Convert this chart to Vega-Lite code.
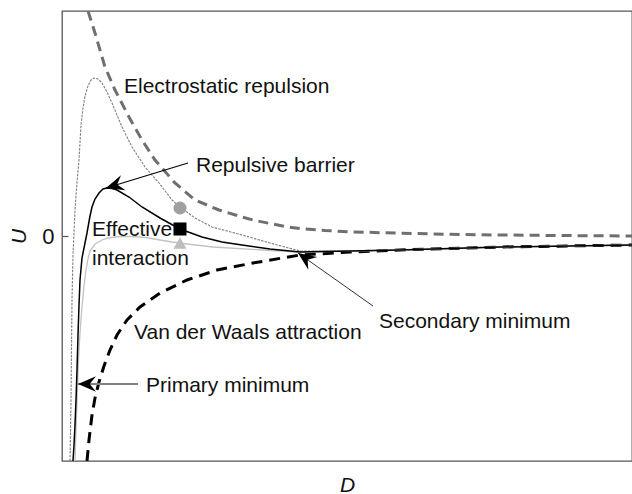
{
  "$schema": "https://vega.github.io/schema/vega-lite/v6.json",
  "width": 570,
  "height": 450,
  "autosize": {"type": "none"},
  "padding": {"left": 62, "top": 11, "right": 0, "bottom": 33},
  "background": "white",
  "config": {
    "font": "Liberation Sans",
    "view": {"stroke": "#555555", "strokeWidth": 1.3}
  },
  "datasets": {
    "electrostatic": [
      {"D": 26, "U": 225}, {"D": 33, "U": 203}, {"D": 43, "U": 169}, {"D": 53, "U": 146},
      {"D": 67, "U": 119}, {"D": 80, "U": 96}, {"D": 93, "U": 76}, {"D": 113, "U": 53},
      {"D": 133, "U": 36}, {"D": 157, "U": 26}, {"D": 180, "U": 19}, {"D": 191, "U": 16},
      {"D": 208, "U": 12.5}, {"D": 223, "U": 9.5}, {"D": 238, "U": 7.5}, {"D": 263, "U": 5.5},
      {"D": 288, "U": 4.2}, {"D": 338, "U": 2.8}, {"D": 388, "U": 1.7}, {"D": 438, "U": 1},
      {"D": 508, "U": 0.4}, {"D": 570, "U": 0}
    ],
    "vanderwaals": [
      {"D": 25, "U": -225}, {"D": 27, "U": -204}, {"D": 30, "U": -179}, {"D": 33, "U": -162},
      {"D": 37, "U": -146}, {"D": 42, "U": -130}, {"D": 48, "U": -114}, {"D": 55, "U": -99},
      {"D": 65, "U": -84}, {"D": 78, "U": -71}, {"D": 98, "U": -57}, {"D": 125, "U": -44},
      {"D": 155, "U": -34}, {"D": 191, "U": -27}, {"D": 238, "U": -19}, {"D": 288, "U": -16},
      {"D": 338, "U": -14}, {"D": 438, "U": -11}, {"D": 570, "U": -9}
    ],
    "strongRepulsion": [
      {"D": 8, "U": -225}, {"D": 9, "U": -164}, {"D": 10, "U": -64}, {"D": 11, "U": -19},
      {"D": 12, "U": 4}, {"D": 13, "U": 26}, {"D": 15, "U": 54}, {"D": 17, "U": 76},
      {"D": 19, "U": 111}, {"D": 21, "U": 128}, {"D": 23, "U": 140}, {"D": 26, "U": 150},
      {"D": 29, "U": 156}, {"D": 32, "U": 158}, {"D": 36, "U": 157}, {"D": 40, "U": 153},
      {"D": 45, "U": 144}, {"D": 50, "U": 133}, {"D": 55, "U": 121}, {"D": 60, "U": 109},
      {"D": 70, "U": 89}, {"D": 83, "U": 69}, {"D": 97, "U": 53}, {"D": 110, "U": 36},
      {"D": 118, "U": 29}, {"D": 133, "U": 18}, {"D": 150, "U": 9}, {"D": 180, "U": 1},
      {"D": 208, "U": -7}, {"D": 238, "U": -15}, {"D": 288, "U": -15}, {"D": 338, "U": -14},
      {"D": 438, "U": -11}, {"D": 570, "U": -9}
    ],
    "weakRepulsion": [
      {"D": 13, "U": -225}, {"D": 14, "U": -194}, {"D": 15, "U": -164}, {"D": 16, "U": -137},
      {"D": 17, "U": -114}, {"D": 18, "U": -97}, {"D": 20, "U": -71}, {"D": 22, "U": -50},
      {"D": 24, "U": -34}, {"D": 26, "U": -23}, {"D": 28, "U": -15}, {"D": 33, "U": -8},
      {"D": 40, "U": -4}, {"D": 46, "U": -2}, {"D": 53, "U": -1}, {"D": 60, "U": -0.5},
      {"D": 67, "U": -0.5}, {"D": 78, "U": -1}, {"D": 87, "U": -2}, {"D": 98, "U": -4},
      {"D": 110, "U": -6}, {"D": 118, "U": -7}, {"D": 125, "U": -8}, {"D": 151, "U": -11},
      {"D": 201, "U": -14}, {"D": 235, "U": -16}, {"D": 288, "U": -15}, {"D": 338, "U": -14},
      {"D": 438, "U": -11}, {"D": 570, "U": -9}
    ],
    "effective": [
      {"D": 11, "U": -225}, {"D": 12, "U": -209}, {"D": 13, "U": -189}, {"D": 14, "U": -164},
      {"D": 15, "U": -134}, {"D": 16, "U": -99}, {"D": 17, "U": -69}, {"D": 18, "U": -44},
      {"D": 20, "U": -22}, {"D": 23, "U": -7}, {"D": 25, "U": 3}, {"D": 28, "U": 20},
      {"D": 30, "U": 29}, {"D": 33, "U": 37}, {"D": 37, "U": 43}, {"D": 41, "U": 47},
      {"D": 45, "U": 48}, {"D": 50, "U": 47.5}, {"D": 55, "U": 46}, {"D": 67, "U": 39},
      {"D": 80, "U": 29}, {"D": 98, "U": 18}, {"D": 118, "U": 7}, {"D": 140, "U": -1},
      {"D": 160, "U": -6}, {"D": 180, "U": -9}, {"D": 208, "U": -13}, {"D": 238, "U": -16},
      {"D": 288, "U": -15}, {"D": 338, "U": -14}, {"D": 438, "U": -11}, {"D": 570, "U": -9}
    ],
    "markers": [
      {"D": 118, "U": 28, "kind": "strong"},
      {"D": 118, "U": 7, "kind": "effective"},
      {"D": 118, "U": -7, "kind": "weak"}
    ],
    "arrows": [
      {"name": "barrier", "D": 126, "U": 73, "D2": 44, "U2": 48},
      {"name": "secondary", "D": 311, "U": -70, "D2": 236, "U2": -17},
      {"name": "primary", "D": 76, "U": -148, "D2": 16, "U2": -148}
    ],
    "labels": [
      {"D": 62, "U": 143, "text": "Electrostatic repulsion"},
      {"D": 134, "U": 64, "text": "Repulsive barrier"},
      {"D": 30, "U": 0, "text": "Effective"},
      {"D": 30, "U": -29, "text": "interaction"},
      {"D": 72, "U": -103, "text": "Van der Waals attraction"},
      {"D": 317, "U": -92, "text": "Secondary minimum"},
      {"D": 84, "U": -156, "text": "Primary minimum"}
    ]
  },
  "encoding": {
    "x": {
      "field": "D",
      "type": "quantitative",
      "scale": {"domain": [0, 570], "nice": false, "zero": false},
      "axis": {
        "title": "D",
        "titleFontStyle": "italic",
        "titleFontWeight": "normal",
        "titleFontSize": 21,
        "titleColor": "#111111",
        "titleY": 30,
        "titleBaseline": "alphabetic",
        "labels": false,
        "ticks": false,
        "domain": false,
        "grid": false
      }
    },
    "y": {
      "field": "U",
      "type": "quantitative",
      "scale": {"domain": [-225, 225], "nice": false, "zero": false},
      "axis": {
        "title": "U",
        "titleFontStyle": "italic",
        "titleFontWeight": "normal",
        "titleFontSize": 21,
        "titleColor": "#111111",
        "titleX": -43,
        "titleBaseline": "middle",
        "values": [0],
        "grid": false,
        "domain": false,
        "tickSize": -6,
        "tickColor": "#555555",
        "tickWidth": 1.2,
        "labelFontSize": 22,
        "labelColor": "#111111",
        "labelPadding": 14
      }
    }
  },
  "layer": [
    {
      "data": {"name": "electrostatic"},
      "mark": {"type": "line", "clip": true, "color": "#6f6f6f", "strokeWidth": 3, "strokeDash": [10, 6]}
    },
    {
      "data": {"name": "vanderwaals"},
      "mark": {"type": "line", "clip": true, "color": "#000000", "strokeWidth": 3, "strokeDash": [11, 7]}
    },
    {
      "data": {"name": "strongRepulsion"},
      "mark": {"type": "line", "clip": true, "color": "#7f7f7f", "strokeWidth": 1.1, "strokeDash": [2.5, 1.2]}
    },
    {
      "data": {"name": "weakRepulsion"},
      "mark": {"type": "line", "clip": true, "color": "#c2c2c2", "strokeWidth": 1.3}
    },
    {
      "data": {"name": "effective"},
      "mark": {"type": "line", "clip": true, "color": "#000000", "strokeWidth": 1.5}
    },
    {
      "data": {"name": "markers"},
      "mark": {"type": "point", "filled": true, "opacity": 1, "size": 170},
      "encoding": {
        "shape": {
          "field": "kind",
          "type": "nominal",
          "scale": {"domain": ["strong", "effective", "weak"], "range": ["circle", "square", "triangle-up"]},
          "legend": null
        },
        "color": {
          "field": "kind",
          "type": "nominal",
          "scale": {"domain": ["strong", "effective", "weak"], "range": ["#a0a0a0", "#000000", "#bdbdbd"]},
          "legend": null
        }
      }
    },
    {
      "data": {"name": "arrows"},
      "transform": [{"filter": "datum.name === 'barrier'"}],
      "layer": [
        {
          "mark": {"type": "rule", "strokeWidth": 1.1, "color": "#000000"},
          "encoding": {"x2": {"field": "D2"}, "y2": {"field": "U2"}}
        },
        {
          "mark": {"type": "point", "filled": true, "opacity": 1, "color": "#000000", "size": 1300, "angle": 253,
                   "shape": "M0,0 L0.43,1 L0,0.65 L-0.43,1 Z"},
          "encoding": {"x": {"field": "D2", "type": "quantitative"}, "y": {"field": "U2", "type": "quantitative"}}
        }
      ]
    },
    {
      "data": {"name": "arrows"},
      "transform": [{"filter": "datum.name === 'secondary'"}],
      "layer": [
        {
          "mark": {"type": "rule", "strokeWidth": 1, "color": "#333333"},
          "encoding": {"x2": {"field": "D2"}, "y2": {"field": "U2"}}
        },
        {
          "mark": {"type": "point", "filled": true, "opacity": 1, "color": "#000000", "size": 1300, "angle": 305,
                   "shape": "M0,0 L0.43,1 L0,0.65 L-0.43,1 Z"},
          "encoding": {"x": {"field": "D2", "type": "quantitative"}, "y": {"field": "U2", "type": "quantitative"}}
        }
      ]
    },
    {
      "data": {"name": "arrows"},
      "transform": [{"filter": "datum.name === 'primary'"}],
      "layer": [
        {
          "mark": {"type": "rule", "strokeWidth": 1.8, "color": "#808080"},
          "encoding": {"x2": {"field": "D2"}, "y2": {"field": "U2"}}
        },
        {
          "mark": {"type": "point", "filled": true, "opacity": 1, "color": "#000000", "size": 1300, "angle": 270,
                   "shape": "M0,0 L0.43,1 L0,0.65 L-0.43,1 Z"},
          "encoding": {"x": {"field": "D2", "type": "quantitative"}, "y": {"field": "U2", "type": "quantitative"}}
        }
      ]
    },
    {
      "data": {"name": "labels"},
      "mark": {"type": "text", "align": "left", "baseline": "alphabetic", "fontSize": 21, "color": "#111111"},
      "encoding": {"text": {"field": "text", "type": "nominal"}}
    }
  ]
}
